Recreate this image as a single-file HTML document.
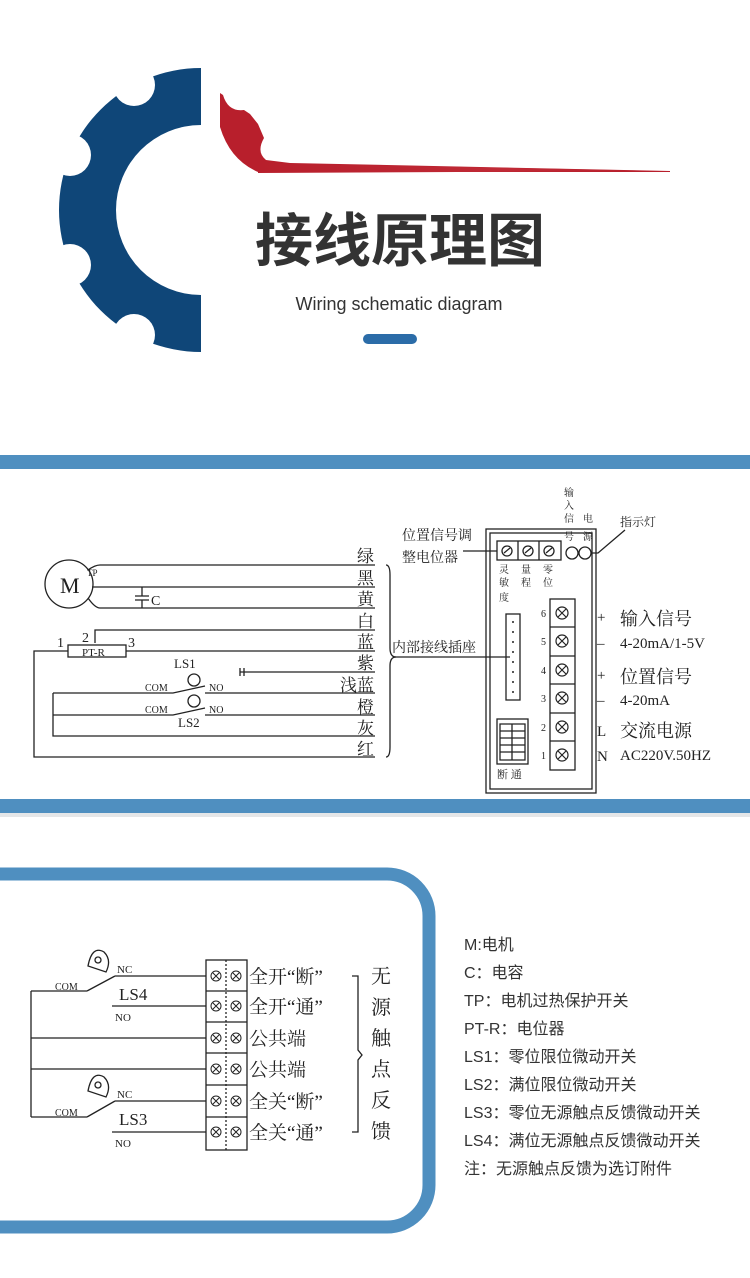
<!DOCTYPE html>
<html><head><meta charset="utf-8"><style>
html,body{margin:0;padding:0;background:#fff;}
svg{display:block;}
.s{font-family:"Liberation Serif","Noto Serif CJK SC","Noto Sans CJK SC",serif;fill:#222;}
.ss{font-family:"Liberation Sans","Noto Sans CJK SC",sans-serif;fill:#333;}
</style></head><body>
<svg width="750" height="1278" viewBox="0 0 750 1278" xmlns="http://www.w3.org/2000/svg">
<defs>
<linearGradient id="rg" x1="0" x2="1" y1="0" y2="0"><stop offset="0" stop-color="#b81f2c"/><stop offset="0.6" stop-color="#c02a36"/><stop offset="1" stop-color="#c02a36" stop-opacity="0"/></linearGradient>
</defs>
<rect width="750" height="1278" fill="#fff"/>
<!-- gear -->
<path d="M201,68 A142,142 0 0 0 201,352 L201,295 A85,85 0 0 1 201,125 Z" fill="#0f4678"/>
<g fill="#fff">
<circle cx="134" cy="85" r="21"/>
<circle cx="70" cy="155" r="21"/>
<circle cx="70" cy="265" r="21"/>
<circle cx="134" cy="335" r="21"/>
</g>
<path d="M220,93 L223,95 Q228,112 244,110 L250,114 L258,124 L264,138 Q256,152 266,160 L290,163 L670,171 L670,172 L258,172 Q230,160 220,127 Z" fill="#b81f2c"/>
<path d="M258,163 L670,171 L258,173 Z" fill="url(#rg)"/>
<text x="400" y="261" text-anchor="middle" font-family="'Noto Sans CJK SC',sans-serif" font-weight="bold" font-size="58" fill="#333">接线原理图</text>
<text x="399" y="310" text-anchor="middle" font-family="'Liberation Sans',sans-serif" font-size="18" fill="#333">Wiring schematic diagram</text>
<rect x="363" y="334" width="54" height="10" rx="5" fill="#2b6ca8"/>

<!-- section 2 -->
<rect x="0" y="455" width="750" height="14" fill="#4f8fc0"/>
<rect x="0" y="799" width="750" height="14" fill="#4f8fc0"/>
<rect x="0" y="813" width="750" height="4" fill="#e4e6e8"/>
<g stroke="#222" stroke-width="1.3" fill="none">
<circle cx="69" cy="584" r="24"/>
<path d="M88,570 Q95,565 100,565 L375,565"/>
<path d="M92,587 L375,587"/>
<path d="M88,598 Q95,608 100,608 L375,608"/>
<path d="M142,587 V596 M135,596 H149 M135,600 H149 M142,600 V608"/>
<path d="M95,643 V630 H375"/>
<rect x="68" y="645" width="58" height="12"/>
<path d="M126,651 H375 M68,651 H34 V757 H375"/>
<path d="M240,672 H375 M240,668 V676 M244,668 V676"/>
<path d="M53,693 H173 L205,686 M205,693 H375"/>
<path d="M53,715 H173 L205,708 M205,715 H375"/>
<path d="M53,693 V736 H375"/>
<circle cx="194" cy="680" r="6"/><circle cx="194" cy="701" r="6"/>
<path d="M386,565 Q390,565 390,575 V648 Q390,657 396,657 Q390,657 390,666 V747 Q390,757 386,757"/>
<path d="M393,657 H510"/>
<rect x="486" y="529" width="110" height="264"/>
<rect x="490" y="533" width="102" height="256"/>
<rect x="497" y="541" width="64" height="19"/>
<path d="M518,541 V560 M539,541 V560"/>
<circle cx="507" cy="551" r="5"/><circle cx="528" cy="551" r="5"/><circle cx="549" cy="551" r="5"/>
<path d="M504,553 L510,548 M525,553 L531,548 M546,553 L552,548"/>
<path d="M463,551 H497"/>
<circle cx="572" cy="553" r="6"/><circle cx="585" cy="553" r="6"/>
<path d="M591,553 H598 L625,530"/>
<rect x="506" y="614" width="14" height="86"/>
<rect x="550" y="599" width="25" height="171"/>
<path d="M550,627 H575 M550,656 H575 M550,684 H575 M550,713 H575 M550,741 H575"/>
<rect x="497" y="719" width="31" height="45"/>
<path d="M500,724 H525 V760 H500 Z M500,731 H525 M500,738 H525 M500,745 H525 M500,752 H525 M512,724 V760"/>
<rect x="206" y="960" width="41" height="190"/>
<path d="M206,991 H247 M206,1022 H247 M206,1053 H247 M206,1085 H247 M206,1117 H247"/>
<path d="M226,960 V1150" stroke-dasharray="2,2"/>
<path d="M115,976 H206 M87,991 L115,976 M31,991 H87 M112,1006 H206 M31,1038 H206 M31,1069 H206 M115,1101 H206 M87,1117 L115,1101 M31,1117 H87 M112,1132 H206 M31,991 V1117"/>
<path d="M88,966 Q92,945 104,952 Q112,960 106,972 Z M88,1091 Q92,1070 104,1077 Q112,1085 106,1097 Z"/>
<circle cx="98" cy="960" r="3"/><circle cx="98" cy="1085" r="3"/>
<path d="M352,976 H358 V1050 L362,1055 L358,1060 V1132 H352"/>
</g>
<g stroke="#222" stroke-width="1.2" fill="none">
<g transform="translate(562,613)"><circle r="6"/><path d="M-4,-4 L4,4 M4,-4 L-4,4"/></g>
<g transform="translate(562,641)"><circle r="6"/><path d="M-4,-4 L4,4 M4,-4 L-4,4"/></g>
<g transform="translate(562,670)"><circle r="6"/><path d="M-4,-4 L4,4 M4,-4 L-4,4"/></g>
<g transform="translate(562,698)"><circle r="6"/><path d="M-4,-4 L4,4 M4,-4 L-4,4"/></g>
<g transform="translate(562,727)"><circle r="6"/><path d="M-4,-4 L4,4 M4,-4 L-4,4"/></g>
<g transform="translate(562,755)"><circle r="6"/><path d="M-4,-4 L4,4 M4,-4 L-4,4"/></g>
<g stroke-width="1">
<g transform="translate(216,976)"><circle r="5"/><path d="M-3,-3 L3,3 M3,-3 L-3,3"/></g><g transform="translate(236,976)"><circle r="5"/><path d="M-3,-3 L3,3 M3,-3 L-3,3"/></g>
<g transform="translate(216,1006)"><circle r="5"/><path d="M-3,-3 L3,3 M3,-3 L-3,3"/></g><g transform="translate(236,1006)"><circle r="5"/><path d="M-3,-3 L3,3 M3,-3 L-3,3"/></g>
<g transform="translate(216,1038)"><circle r="5"/><path d="M-3,-3 L3,3 M3,-3 L-3,3"/></g><g transform="translate(236,1038)"><circle r="5"/><path d="M-3,-3 L3,3 M3,-3 L-3,3"/></g>
<g transform="translate(216,1069)"><circle r="5"/><path d="M-3,-3 L3,3 M3,-3 L-3,3"/></g><g transform="translate(236,1069)"><circle r="5"/><path d="M-3,-3 L3,3 M3,-3 L-3,3"/></g>
<g transform="translate(216,1101)"><circle r="5"/><path d="M-3,-3 L3,3 M3,-3 L-3,3"/></g><g transform="translate(236,1101)"><circle r="5"/><path d="M-3,-3 L3,3 M3,-3 L-3,3"/></g>
<g transform="translate(216,1132)"><circle r="5"/><path d="M-3,-3 L3,3 M3,-3 L-3,3"/></g><g transform="translate(236,1132)"><circle r="5"/><path d="M-3,-3 L3,3 M3,-3 L-3,3"/></g>
</g>
</g>
<g fill="#222"><circle cx="513" cy="622" r="1"/><circle cx="513" cy="632" r="1"/><circle cx="513" cy="642" r="1"/><circle cx="513" cy="652" r="1"/><circle cx="513" cy="662" r="1"/><circle cx="513" cy="672" r="1"/><circle cx="513" cy="682" r="1"/><circle cx="513" cy="692" r="1"/></g>
<g class="s" font-size="17">
<text x="60" y="593" font-size="22">M</text>
<text x="87" y="576" font-size="9">TP</text>
<text x="151" y="605" font-size="14">C</text>
<text x="57" y="647" font-size="14">1</text><text x="82" y="642" font-size="14">2</text><text x="128" y="647" font-size="14">3</text>
<text x="82" y="656" font-size="11">PT-R</text>
<text x="174" y="668" font-size="13">LS1</text>
<text x="178" y="727" font-size="13">LS2</text>
<text x="145" y="691" font-size="10">COM</text><text x="145" y="713" font-size="10">COM</text>
<text x="209" y="691" font-size="10">NO</text><text x="209" y="713" font-size="10">NO</text>
<text x="357" y="562">绿</text><text x="357" y="584">黑</text><text x="357" y="605">黄</text><text x="357" y="627">白</text><text x="357" y="648">蓝</text><text x="357" y="669">紫</text><text x="340" y="691">浅蓝</text><text x="357" y="713">橙</text><text x="357" y="734">灰</text><text x="357" y="755">红</text>
<text x="392" y="652" font-size="14">内部接线插座</text>
<text x="402" y="540" font-size="14">位置信号调</text>
<text x="402" y="562" font-size="14">整电位器</text>
<g font-size="10"><text x="564" y="496">输</text><text x="564" y="509">入</text><text x="564" y="522">信</text><text x="564" y="540">号</text><text x="583" y="522">电</text><text x="583" y="540">源</text>
<text x="499" y="573">灵</text><text x="499" y="586">敏</text><text x="499" y="601">度</text><text x="521" y="573">量</text><text x="521" y="586">程</text><text x="543" y="573">零</text><text x="543" y="586">位</text></g>
<text x="620" y="526" font-size="12">指示灯</text>
<g font-size="10"><text x="541" y="617">6</text><text x="541" y="645">5</text><text x="541" y="674">4</text><text x="541" y="702">3</text><text x="541" y="731">2</text><text x="541" y="759">1</text></g>
<text x="597" y="622" font-size="15">+</text><text x="597" y="648" font-size="15">–</text><text x="597" y="680" font-size="15">+</text><text x="597" y="705" font-size="15">–</text>
<text x="597" y="736" font-size="15">L</text><text x="597" y="761" font-size="15">N</text>
<text x="620" y="625" font-size="18">输入信号</text>
<text x="620" y="648" font-size="15">4-20mA/1-5V</text>
<text x="620" y="683" font-size="18">位置信号</text>
<text x="620" y="705" font-size="15">4-20mA</text>
<text x="620" y="737" font-size="18">交流电源</text>
<text x="620" y="760" font-size="15">AC220V.50HZ</text>
<text x="497" y="778" font-size="11">断 通</text>
</g>
<rect x="-60" y="874" width="489" height="353" rx="42" fill="none" stroke="#4f8fc0" stroke-width="13"/>
<g class="s">
<text x="55" y="990" font-size="10">COM</text><text x="55" y="1116" font-size="10">COM</text>
<text x="117" y="973" font-size="11">NC</text><text x="117" y="1098" font-size="11">NC</text>
<text x="119" y="1000" font-size="17">LS4</text><text x="119" y="1125" font-size="17">LS3</text>
<text x="115" y="1021" font-size="11">NO</text><text x="115" y="1147" font-size="11">NO</text>
<g font-size="19"><text x="249" y="983">全开“断”</text><text x="249" y="1013">全开“通”</text><text x="249" y="1045">公共端</text><text x="249" y="1076">公共端</text><text x="249" y="1108">全关“断”</text><text x="249" y="1139">全关“通”</text></g>
<g font-size="20"><text x="371" y="983">无</text><text x="371" y="1014">源</text><text x="371" y="1045">触</text><text x="371" y="1076">点</text><text x="371" y="1107">反</text><text x="371" y="1138">馈</text></g>
</g>
<g class="ss" font-size="16">
<text x="464" y="950">M:电机</text>
<text x="464" y="978">C：电容</text>
<text x="464" y="1006">TP：电机过热保护开关</text>
<text x="464" y="1034">PT-R：电位器</text>
<text x="464" y="1062">LS1：零位限位微动开关</text>
<text x="464" y="1090">LS2：满位限位微动开关</text>
<text x="464" y="1118">LS3：零位无源触点反馈微动开关</text>
<text x="464" y="1146">LS4：满位无源触点反馈微动开关</text>
<text x="464" y="1174">注：无源触点反馈为选订附件</text>
</g>
</svg>
</body></html>
